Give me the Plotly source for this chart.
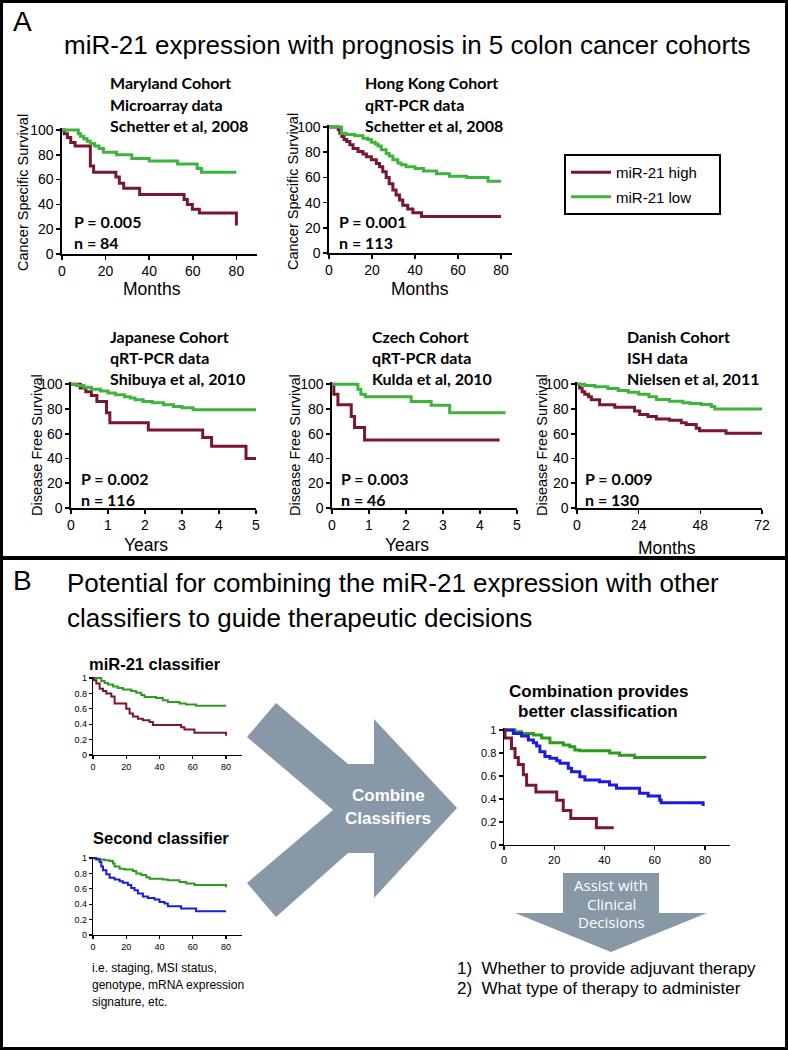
import plotly.graph_objects as go

W, H = 788, 1050
ARIAL = "Liberation Sans, Arial, sans-serif"
CAL = "Lato, Carlito, Calibri, sans-serif"
RED = "#7a1730"
GREEN_A = "#3db53c"
GREEN_B = "#2f9b1e"
BLUE = "#1b1be0"
ARROW = "#8898a6"

# ---------------- data ----------------
# Panel A - Maryland (months, % survival)
maryland_high_t = [0, 1, 2.5, 4, 6, 13, 14.5, 24.7, 26.3, 28.3, 35.6, 56, 57.5, 59.8, 63, 80]
maryland_high_s = [100, 97, 94, 90, 87, 71, 66, 62, 57, 53, 48, 44, 40, 36, 33, 23]
maryland_low_t = [0, 7.5, 8.5, 10, 11.5, 13, 15, 17, 19, 25, 32, 40, 53, 62, 64, 80]
maryland_low_s = [100, 97, 95, 93, 91, 89, 87, 85, 82, 80, 77, 75, 72.5, 69, 66, 66]
# Hong Kong
hk_high_t = [0, 4.3, 5, 6, 7, 8.2, 9.7, 11.2, 13.5, 15.8, 17.4, 19.7, 22, 23.5, 25, 26.6, 28,
             29.7, 31.2, 32.8, 34.3, 36.6, 39, 43, 80]
hk_high_s = [100, 98, 95, 92.5, 90, 88.5, 86, 83, 80.5, 78.5, 76.5, 74, 71, 68.5, 64.5, 60, 55,
             50, 46, 42, 38, 35, 32, 29, 29]
hk_low_t = [0, 5.8, 8, 12, 15.8, 18, 19.7, 21.5, 22.8, 24.3, 26.6, 28, 29.7, 32, 33.5, 35.8,
            40, 44, 50, 56, 64, 74, 80]
hk_low_s = [100, 95, 94, 93, 91, 90, 88, 86.5, 85, 82, 79, 77, 74, 71.5, 70, 68.5,
            67, 65, 63, 61, 60, 57, 57]
# Japanese (years)
jp_high_t = [0, 0.25, 0.4, 0.55, 0.7, 0.96, 1.05, 2.09, 3.56, 3.8, 4.73, 5]
jp_high_s = [100, 97, 94, 91, 86, 77, 69, 63, 57, 50, 40, 40]
jp_low_t = [0, 0.15, 0.35, 0.55, 0.8, 1.0, 1.2, 1.45, 1.6, 1.73, 1.95, 2.2, 2.5, 2.77, 3.0, 3.3, 5]
jp_low_s = [100, 99, 97.5, 96, 94.5, 93, 91.5, 90, 89, 87.5, 86, 85, 83.5, 82, 81, 79.5, 79.5]
# Czech (years)
cz_high_t = [0, 0.05, 0.16, 0.52, 0.61, 0.88, 4.53]
cz_high_s = [100, 92, 83.5, 74, 65, 55, 55]
cz_low_t = [0, 0.7, 0.78, 0.9, 2.14, 2.68, 3.18, 4.69]
cz_low_s = [100, 96, 92, 90, 86, 83, 77, 77]
# Danish (months)
dk_high_t = [0, 1, 2, 3, 4.5, 5.6, 8.8, 14.7, 22.4, 24.4, 27.6, 30.9, 36, 40.6, 42.5, 46.4, 47.7, 58, 72]
dk_high_s = [100, 97, 94, 92, 90, 87.5, 83.5, 81.5, 78.5, 75.5, 74, 72, 71, 69, 67.5, 64.5, 62.5, 60.5, 60]
dk_low_t = [0, 3, 7, 12, 16, 20, 24, 28, 30.9, 36, 41.2, 44, 48.4, 52.3, 53.6, 72]
dk_low_s = [100, 99, 98, 96.5, 95, 93.5, 92, 90, 87.6, 86.3, 85, 84.4, 83.6, 82, 80, 79.5]

# Panel B - miR-21 classifier (months, fraction)
mir_high_t = [0, 0.5, 2, 4, 6, 8, 11, 13, 20, 22, 24, 27, 30, 34, 36, 53, 55, 61, 80]
mir_high_s = [1, 0.97, 0.93, 0.86, 0.83, 0.80, 0.76, 0.67, 0.60, 0.54, 0.50, 0.47, 0.45, 0.43, 0.39, 0.36, 0.33, 0.29, 0.25]
mir_low_t = [0, 5, 7, 9, 12, 15, 18, 23, 26, 29, 31, 38, 42, 45, 52, 56, 62, 80]
mir_low_s = [1, 0.96, 0.935, 0.915, 0.89, 0.87, 0.85, 0.83, 0.81, 0.78, 0.755, 0.74, 0.71, 0.69, 0.67, 0.655, 0.64, 0.64]
# Second classifier
sec_good_t = [0, 1, 4, 7, 10, 12, 13, 16, 19, 24, 26, 29, 32, 34, 42, 45, 52, 56, 61, 80]
sec_good_s = [1, 0.99, 0.98, 0.97, 0.96, 0.93, 0.89, 0.86, 0.85, 0.83, 0.80, 0.78, 0.75, 0.73, 0.72, 0.71, 0.69, 0.67, 0.65, 0.62]
sec_poor_t = [0, 2, 4, 5, 6, 8, 10, 13, 16, 18, 21, 23, 25, 27, 30, 33, 37, 40, 43, 45, 53, 62, 80]
sec_poor_s = [1, 0.98, 0.95, 0.89, 0.84, 0.79, 0.745, 0.72, 0.70, 0.68, 0.65, 0.61, 0.58, 0.54, 0.50, 0.48, 0.46, 0.43, 0.41, 0.375, 0.345, 0.31, 0.31]
# Combination
comb_good_t = [0, 4.4, 7, 11.7, 15, 18.3, 23.6, 26.2, 28.2, 30.2, 42.1, 46, 52, 80]
comb_good_s = [1, 0.985, 0.97, 0.957, 0.93, 0.89, 0.87, 0.855, 0.826, 0.82, 0.80, 0.78, 0.76, 0.755]
comb_mid_t = [0, 3.7, 7, 9.7, 11.7, 13, 14.3, 16.3, 18.3, 21, 22.3, 25.6, 26.9, 30.2, 32.2, 38, 42,
              44.8, 54, 57.4, 62, 62.6, 79.3]
comb_mid_s = [1, 0.97, 0.948, 0.913, 0.89, 0.86, 0.81, 0.77, 0.754, 0.733, 0.71, 0.667, 0.638, 0.594,
              0.565, 0.55, 0.522, 0.493, 0.449, 0.426, 0.39, 0.368, 0.34]
comb_poor_t = [0, 0.4, 3, 4.4, 5.7, 7.7, 9, 12.7, 21, 23.6, 26.6, 36.8, 43.7]
comb_poor_s = [1, 0.93, 0.84, 0.76, 0.70, 0.61, 0.52, 0.46, 0.39, 0.30, 0.23, 0.15, 0.15]

# axis tick values
pct_ticks = [0, 20, 40, 60, 80, 100]
month_ticks = [0, 20, 40, 60, 80]
year_ticks = [0, 1, 2, 3, 4, 5]
dk_ticks = [0, 24, 48, 72]
frac_ticks = [0, 0.2, 0.4, 0.6, 0.8, 1]
frac_text = ["0", "0.2", "0.4", "0.6", "0.8", "1"]

# ---------------- helpers ----------------
def X(p):
    return p / W


def Y(p):
    return 1 - p / H


fig = go.Figure()
layout = {}


def make_axes(i, xl, xr, xrng, xt, ytop, ybot, yrng, yt, ytt, fs, lw, tl):
    sx = "" if i == 1 else str(i)
    common = dict(ticks="outside", ticklen=tl, tickwidth=lw, tickcolor="black",
                  showline=True, linecolor="black", linewidth=lw, showgrid=False,
                  zeroline=False, automargin=False, fixedrange=True,
                  tickfont=dict(family=ARIAL, size=fs, color="black"))
    layout["xaxis" + sx] = dict(domain=[X(xl), X(xr)], range=xrng, anchor="y" + sx,
                                tickvals=xt, **common)
    layout["yaxis" + sx] = dict(domain=[Y(ybot), Y(ytop)], range=yrng, anchor="x" + sx,
                                tickvals=yt, ticktext=ytt, **common)


pct_text = [str(v) for v in pct_ticks]
make_axes(1, 62, 257, [0, 89.45], month_ticks, 127.5, 254, [0, 102], pct_ticks, pct_text, 14, 1.6, 4)
make_axes(2, 329, 511.75, [0, 85], month_ticks, 124.5, 253, [0, 102], pct_ticks, pct_text, 14, 1.6, 4)
make_axes(3, 71, 256, [0, 5], year_ticks, 381.8, 508, [0, 102], pct_ticks, pct_text, 14, 1.6, 4)
make_axes(4, 332, 517, [0, 5], year_ticks, 381.8, 508, [0, 102], pct_ticks, pct_text, 14, 1.6, 4)
make_axes(5, 577, 762, [0, 72], dk_ticks, 381.8, 508, [0, 102], pct_ticks, pct_text, 14, 1.6, 4)
make_axes(6, 93, 242, [0, 89.6], month_ticks, 676.5, 755, [0, 1.02], frac_ticks, frac_text, 9, 1.2, 3)
make_axes(7, 93, 242, [0, 89.6], month_ticks, 856.5, 935, [0, 1.02], frac_ticks, frac_text, 9, 1.2, 3)
make_axes(8, 504, 730, [0, 90], month_ticks, 727.7, 845, [0, 1.02], frac_ticks, frac_text, 11, 1.4, 4)


def km(i, t, s, color, width, name=None, show=False):
    sx = "" if i == 1 else str(i)
    fig.add_trace(go.Scatter(
        x=t, y=s, mode="lines", line=dict(color=color, width=width, shape="hv"),
        xaxis="x" + sx, yaxis="y" + sx, name=name, showlegend=show,
        legendgroup=name if show else None, hoverinfo="skip"))


km(1, maryland_high_t, maryland_high_s, RED, 3, "miR-21 high\u00a0\u00a0\u00a0\u00a0", True)
km(1, maryland_low_t, maryland_low_s, GREEN_A, 3, "miR-21 low", True)
km(2, hk_high_t, hk_high_s, RED, 3)
km(2, hk_low_t, hk_low_s, GREEN_A, 3)
km(3, jp_high_t, jp_high_s, RED, 3)
km(3, jp_low_t, jp_low_s, GREEN_A, 3)
km(4, cz_high_t, cz_high_s, RED, 3)
km(4, cz_low_t, cz_low_s, GREEN_A, 3)
km(5, dk_high_t, dk_high_s, RED, 3)
km(5, dk_low_t, dk_low_s, GREEN_A, 3)
km(6, mir_low_t, mir_low_s, GREEN_B, 2)
km(6, mir_high_t, mir_high_s, RED, 2)
km(7, sec_good_t, sec_good_s, GREEN_B, 2)
km(7, sec_poor_t, sec_poor_s, BLUE, 2)
km(8, comb_good_t, comb_good_s, GREEN_B, 3)
km(8, comb_mid_t, comb_mid_s, BLUE, 3)
km(8, comb_poor_t, comb_poor_s, RED, 3)

# ---------------- text ----------------
ann = []


def txt(x, y, s, size, family=ARIAL, bold=False, anchor="left", color="black", angle=0):
    if bold:
        s = "<b>" + s + "</b>"
    ann.append(dict(x=X(x), y=Y(y), xref="paper", yref="paper", text=s, showarrow=False,
                    xanchor=anchor, yanchor="middle", textangle=angle,
                    font=dict(family=family, size=size, color=color)))


txt(22, 22, "A", 28, anchor="center")
txt(407, 45, "miR-21 expression with prognosis in 5 colon cancer cohorts", 26, anchor="center")

cohorts = [
    (108, 83, ["Maryland Cohort", "Microarray data", "Schetter et al, 2008"]),
    (363, 83, ["Hong Kong Cohort", "qRT-PCR data", "Schetter et al, 2008"]),
    (108, 337, ["Japanese Cohort", "qRT-PCR data", "Shibuya et al, 2010"]),
    (370, 337, ["Czech Cohort", "qRT-PCR data", "Kulda et al, 2010"]),
    (625, 337, ["Danish Cohort", "ISH data", "Nielsen et al, 2011"]),
]
for x0, y0, lines in cohorts:
    for k, line in enumerate(lines):
        txt(x0, y0 + 21 * k, line, 16, family=CAL, bold=True)

stats = [(72, 221, "P = 0.005", "n = 84"), (337, 221, "P = 0.001", "n = 113"),
         (79, 478, "P = 0.002", "n = 116"), (339, 478, "P = 0.003", "n = 46"),
         (583, 478, "P = 0.009", "n = 130")]
for x0, y0, p, n in stats:
    txt(x0, y0, p, 16, family=CAL, bold=True)
    txt(x0, y0 + 21, n, 16, family=CAL, bold=True)

for x0, y0, s in [(23, 193, "Cancer Specific Survival"), (293, 192, "Cancer Specific Survival"),
                  (37, 445, "Disease Free Survival"), (295, 445, "Disease Free Survival"),
                  (542, 445, "Disease Free Survival")]:
    txt(x0, y0, s, 14.5, anchor="center", angle=-90)
for x0, y0, s in [(152, 289, "Months"), (420, 289, "Months"), (146, 545, "Years"),
                  (407, 545, "Years"), (667, 548, "Months")]:
    txt(x0, y0, s, 17.5, anchor="center")

txt(22, 580, "B", 28, anchor="center")
txt(65, 583, "Potential for combining the miR-21 expression with other", 26)
txt(65, 618, "classifiers to guide therapeutic decisions", 26)
txt(87, 664, "miR-21 classifier", 16.5, bold=True)
txt(91, 838, "Second classifier", 16.5, bold=True)
for k, s in enumerate(["i.e. staging, MSI status,", "genotype, mRNA expression", "signature, etc."]):
    txt(90, 968 + 17 * k, s, 12)
txt(598, 691, "Combination provides", 17, bold=True, anchor="center")
txt(598, 711, "better classification", 17, bold=True, anchor="center")
txt(388, 795, "Combine", 17, bold=True, anchor="center", color="white")
txt(388, 818, "Classifiers", 17, bold=True, anchor="center", color="white")
for k, s in enumerate(["Assist with", "Clinical", "Decisions"]):
    txt(611, 885 + 18.5 * k, s, 15, family="Open Sans, sans-serif", anchor="center", color="white")
txt(455, 968, "1)\u00a0\u00a0Whether to provide adjuvant therapy", 17)
txt(455, 988, "2)\u00a0\u00a0What type of therapy to administer", 17)

# ---------------- shapes ----------------
def path(pts):
    return "M " + " L ".join(f"{X(a):.5f},{Y(b):.5f}" for a, b in pts) + " Z"


combine_arrow = [(247, 737), (276, 703), (348, 764), (374, 764), (374, 719), (457, 808),
                 (374, 898), (374, 853), (348, 853), (276, 917), (247, 883), (333, 810)]
assist_arrow = [(563, 873), (659, 873), (659, 913), (707, 913), (611, 952), (515, 913), (563, 913)]

shapes = [
    dict(type="path", path=path(combine_arrow), xref="paper", yref="paper",
         fillcolor=ARROW, line=dict(width=0), layer="below"),
    dict(type="path", path=path(assist_arrow), xref="paper", yref="paper",
         fillcolor=ARROW, line=dict(width=0), layer="below"),
    dict(type="rect", xref="paper", yref="paper", x0=X(1.5), x1=X(786.5), y0=Y(1048.5), y1=Y(1.5),
         line=dict(color="black", width=3)),
    dict(type="line", xref="paper", yref="paper", x0=0, x1=1, y0=Y(558), y1=Y(558),
         line=dict(color="black", width=4)),
]

layout.update(dict(
    width=W, height=H, margin=dict(l=0, r=0, t=0, b=0, pad=0, autoexpand=False),
    paper_bgcolor="white", plot_bgcolor="rgba(0,0,0,0)",
    annotations=ann, shapes=shapes,
    legend=dict(x=X(564), y=Y(154), xanchor="left", yanchor="top", bordercolor="black",
                borderwidth=2, bgcolor="white", font=dict(family=ARIAL, size=15, color="black"),
                itemwidth=40, traceorder="grouped", tracegroupgap=2),
))
fig.update_layout(**layout)
fig.write_html(
    "out.html",
    config={"displayModeBar": False, "staticPlot": True},
    post_script=("document.documentElement.style.margin='0';document.documentElement.style.padding='0';"
                 "document.body.style.margin='0';document.body.style.padding='0';"
                 "document.documentElement.style.overflow='hidden';document.body.style.overflow='hidden';"),
)
